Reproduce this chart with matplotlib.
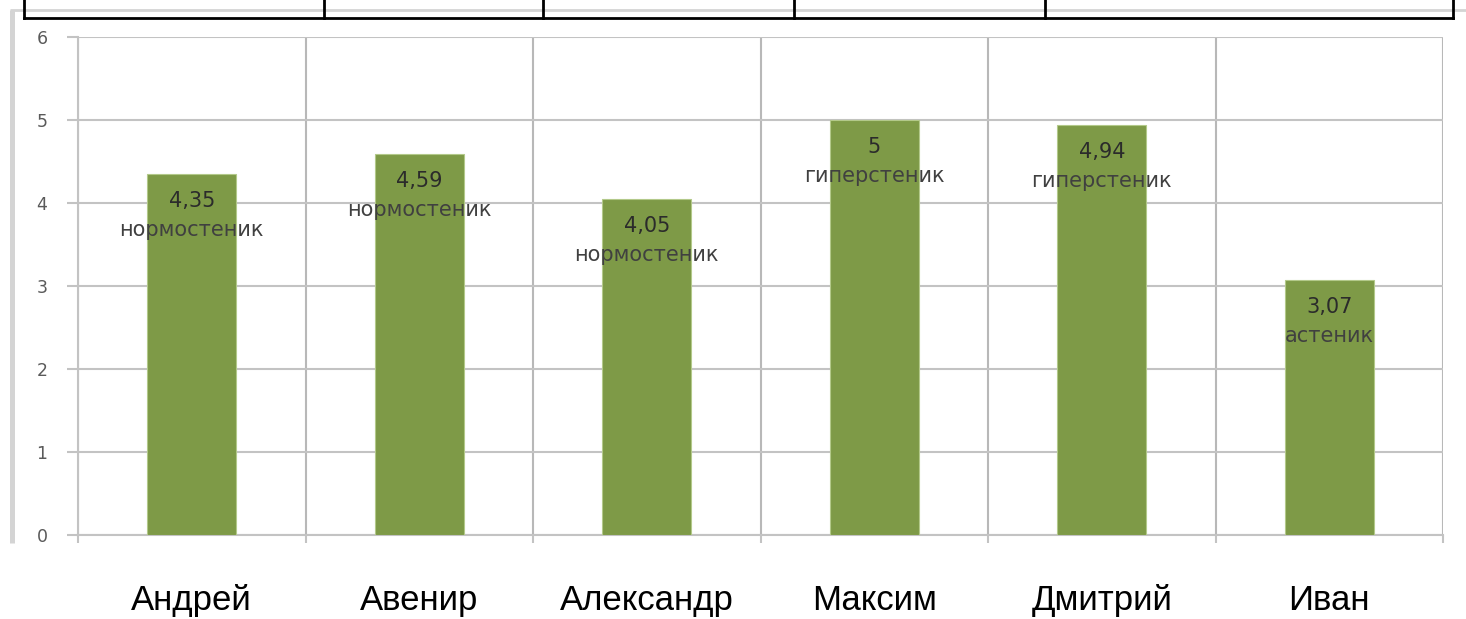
import numpy as np
import matplotlib
matplotlib.use('Agg')
import matplotlib.pyplot as plt
from matplotlib.lines import Line2D

# --------- data ---------
names = ['Андрей', 'Авенир', 'Александр', 'Максим', 'Дмитрий', 'Иван']
values = [4.35, 4.59, 4.05, 5, 4.94, 3.07]
body_types = ['нормостеник', 'нормостеник', 'нормостеник',
              'гиперстеник', 'гиперстеник', 'астеник']
y_ticks = [0, 1, 2, 3, 4, 5, 6]

# --------- style ---------
W, H = 1466, 619
bar_color = '#7E9A47'
grid_color = '#C3C3C3'
frame_color = '#D4D4D4'

fig = plt.figure(figsize=(W / 100, H / 100), dpi=100)
fig.patch.set_facecolor('white')


def px_line(xs, ys, **kw):
    # line in pixel coords (y from top)
    fig.add_artist(Line2D([x / W for x in xs], [1 - y / H for y in ys],
                          transform=fig.transFigure, **kw))


# outer chart frame (light gray)
px_line([10, W], [10, 10], color=frame_color, linewidth=2, solid_capstyle='butt')
px_line([12, 12], [10, 543], color=frame_color, linewidth=3.6, solid_capstyle='butt')

# bottom of the table above the chart
px_line([24, 1453], [18, 18], color='black', linewidth=2)
for xv in [24, 324, 543, 794, 1045, 1453]:
    px_line([xv, xv], [0, 18], color='black', linewidth=2)

ax = fig.add_axes([78 / W, 1 - 535 / H, (1443 - 78) / W, (535 - 37) / H])

x = np.arange(len(names))
ax.bar(x, values, width=0.39, color=bar_color, edgecolor='#B3C98A',
       linewidth=0.8, zorder=3)

for xi, v, t in zip(x, values, body_types):
    txt = f"{v:g}".replace('.', ',')
    ax.annotate(txt, (xi, v), xytext=(0, -19.5), textcoords='offset points',
                ha='center', va='center', fontsize=15, color='#2B2B2B',
                family='DejaVu Sans', zorder=4)
    ax.annotate(t, (xi, v), xytext=(0, -40.5), textcoords='offset points',
                ha='center', va='center', fontsize=15, color='#404040',
                family='DejaVu Sans', zorder=4)

ax.set_xlim(-0.5, len(names) - 0.5)
ax.set_ylim(0, 6)
ax.set_yticks(y_ticks)
ax.set_yticklabels([str(t) for t in y_ticks], fontsize=12.5, color='#5A5A5A')

ax.set_xticks(x)
ax.set_xticklabels(names, fontsize=25, family='Liberation Sans', color='black')
ax.set_xticks(np.arange(len(names) + 1) - 0.5, minor=True)

ax.tick_params(axis='y', length=8, width=1.5, color=grid_color, pad=14)
ax.tick_params(axis='x', which='major', length=0, pad=35)
ax.tick_params(axis='x', which='minor', length=6, width=1.5, color=grid_color)

ax.grid(axis='y', color=grid_color, linewidth=1.5, zorder=0)
ax.grid(axis='x', which='minor', color='#B8B8B8', linewidth=1.5, zorder=0)
ax.set_axisbelow(True)

for s in ['top', 'right']:
    ax.spines[s].set_visible(False)
for s in ['left', 'bottom']:
    ax.spines[s].set_color(grid_color)
    ax.spines[s].set_linewidth(1.5)

fig.savefig('out.png', dpi=100, facecolor='white')
